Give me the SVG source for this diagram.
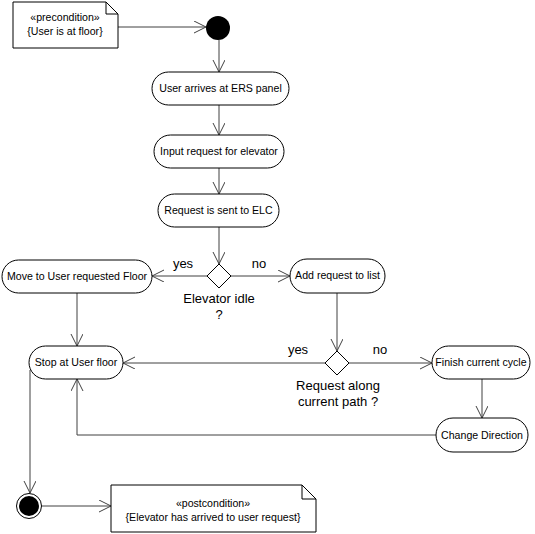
<svg xmlns="http://www.w3.org/2000/svg" width="535" height="534" viewBox="0 0 535 534">
<defs>
<marker id="arr" markerUnits="userSpaceOnUse" markerWidth="14" markerHeight="14" refX="12" refY="6" orient="auto">
<path d="M0,0 L12,6 L0,12" fill="none" stroke="#404040" stroke-width="1"/>
</marker>
<style>
.node{fill:#fff;stroke:#000;stroke-width:1}
.t{font-family:"Liberation Sans",Arial,sans-serif;font-size:10.6px;fill:#000;text-anchor:middle}
.l{font-family:"Liberation Sans",Arial,sans-serif;font-size:13px;fill:#000;text-anchor:middle}
.c{fill:none;stroke:#404040;stroke-width:1}
</style>
</defs>
<rect width="535" height="534" fill="#fff"/>
<g id="connectors">
<path class="c" d="M118,27 H206" marker-end="url(#arr)"/>
<path class="c" d="M219,40 V72" marker-end="url(#arr)"/>
<path class="c" d="M219,105 V135" marker-end="url(#arr)"/>
<path class="c" d="M219,168 V194" marker-end="url(#arr)"/>
<path class="c" d="M219,227 V264" marker-end="url(#arr)"/>
<path class="c" d="M207,276 H152" marker-end="url(#arr)"/>
<path class="c" d="M231,276 H290" marker-end="url(#arr)"/>
<path class="c" d="M77,293 V346" marker-end="url(#arr)"/>
<path class="c" d="M337,293 V351" marker-end="url(#arr)"/>
<path class="c" d="M325,363 H123" marker-end="url(#arr)"/>
<path class="c" d="M349,363 H432" marker-end="url(#arr)"/>
<path class="c" d="M482,379 V418" marker-end="url(#arr)"/>
<path class="c" d="M436,435 H77 V379" marker-end="url(#arr)"/>
<path class="c" d="M30,370 V493" marker-end="url(#arr)"/>
<path class="c" d="M42,506 H111" marker-end="url(#arr)"/>
</g>
<g id="precondition">
<path class="node" d="M13,2 H106 L118,14 V48 H13 Z M106,2 V14 H118"/>
<text class="t" x="65" y="21">«precondition»</text>
<text class="t" x="65" y="35">{User is at floor}</text>
</g>
<g id="start"><circle cx="218" cy="28" r="12" fill="#000"/></g>
<g id="n1"><rect class="node" x="152" y="72" width="137" height="33" rx="16.5"/><text class="t" x="220.5" y="92">User arrives at ERS panel</text></g>
<g id="n2"><rect class="node" x="154" y="135" width="130" height="33" rx="16.5"/><text class="t" x="219" y="155">Input request for elevator</text></g>
<g id="n3"><rect class="node" x="158" y="194" width="121" height="33" rx="16.5"/><text class="t" x="218.5" y="214">Request is sent to ELC</text></g>
<g id="d1"><path class="node" d="M219,264 L231,276 L219,288 L207,276 Z"/>
<text class="l" x="183" y="268">yes</text><text class="l" x="259" y="268">no</text>
<text class="l" x="219" y="303">Elevator idle</text><text class="l" x="219" y="319">?</text></g>
<g id="move"><rect class="node" x="2" y="260" width="150" height="33" rx="16.5"/><text class="t" x="77" y="280">Move to User requested Floor</text></g>
<g id="add"><rect class="node" x="290" y="259" width="95" height="34" rx="17"/><text class="t" x="337.5" y="279">Add request to list</text></g>
<g id="d2"><path class="node" d="M337,351 L349,363 L337,375 L325,363 Z"/>
<text class="l" x="298" y="354">yes</text><text class="l" x="380" y="354">no</text>
<text class="l" x="338" y="390">Request along</text><text class="l" x="338" y="406">current path ?</text></g>
<g id="stop"><rect class="node" x="29" y="346" width="94" height="33" rx="16.5"/><text class="t" x="76" y="366">Stop at User floor</text></g>
<g id="finish"><rect class="node" x="432" y="346" width="98" height="33" rx="16.5"/><text class="t" x="481" y="366">Finish current cycle</text></g>
<g id="change"><rect class="node" x="436" y="418" width="92" height="34" rx="17"/><text class="t" x="482" y="439">Change Direction</text></g>
<g id="final"><circle cx="29" cy="506" r="12.5" fill="#fff" stroke="#000"/><circle cx="29" cy="506" r="10" fill="#000"/></g>
<g id="postcondition">
<path class="node" d="M111,485 H302 L316,499 V532 H111 Z M302,485 V499 H316"/>
<text class="t" x="213" y="507">«postcondition»</text>
<text class="t" x="213" y="521">{Elevator has arrived to user request}</text>
</g>
</svg>
